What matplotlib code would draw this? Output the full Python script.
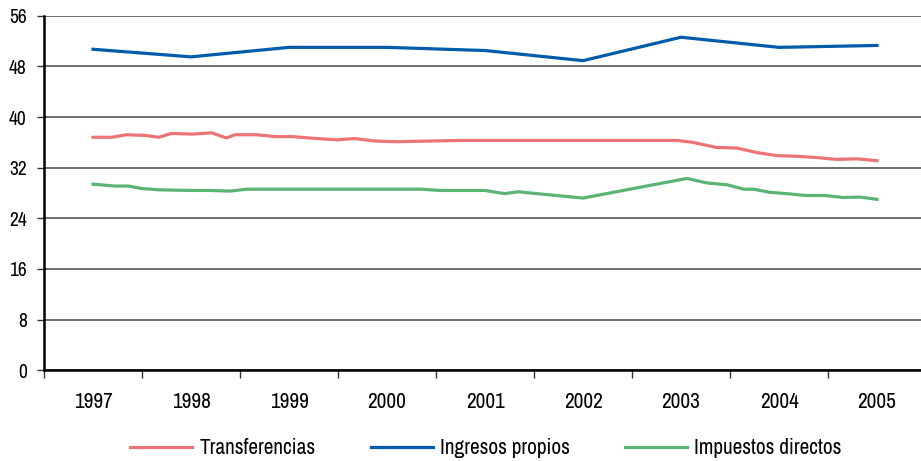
import matplotlib
matplotlib.use("Agg")
import matplotlib.pyplot as plt
from matplotlib import font_manager

names = sorted({f.name for f in font_manager.fontManager.ttflist})
cond = [n for n in names if ("Narrow" in n or "Condensed" in n)]
family = cond[:1] + ["Liberation Sans", "DejaVu Sans"]
family = [f for f in family if f in names] or ["DejaVu Sans"]
plt.rcParams["font.family"] = family
FS_X = 15.3 if cond else 14
FS_Y = 14 if cond else 12.5

years = [1997, 1998, 1999, 2000, 2001, 2002, 2003, 2004, 2005]
year_labels = [str(y) for y in years]

# Ingresos propios (annual)
ingresos = [50.7, 49.5, 51.0, 51.0, 50.5, 48.9, 52.6, 51.0, 51.3]

# Transferencias (sub-annual)
transf_x = [1997.00, 1997.19, 1997.34, 1997.53, 1997.67, 1997.80, 1998.02, 1998.21,
            1998.36, 1998.45, 1998.67, 1998.86, 1999.04, 1999.28, 1999.49, 1999.67,
            1999.88, 2000.10, 2000.74, 2002.96, 2003.12, 2003.36, 2003.57, 2003.77,
            2003.98, 2004.18, 2004.38, 2004.59, 2004.79, 2005.00]
transf_y = [36.8, 36.8, 37.2, 37.1, 36.8, 37.4, 37.3, 37.5, 36.7, 37.2, 37.2, 36.9,
            36.9, 36.6, 36.4, 36.6, 36.2, 36.1, 36.3, 36.3, 36.0, 35.2, 35.1, 34.4,
            33.9, 33.8, 33.6, 33.3, 33.4, 33.1]

# Impuestos directos (sub-annual)
imp_x = [1997.00, 1997.22, 1997.36, 1997.50, 1997.68, 1998.02, 1998.19, 1998.40,
         1998.57, 2000.35, 2000.54, 2001.00, 2001.20, 2001.34, 2001.53, 2002.00,
         2003.06, 2003.26, 2003.47, 2003.64, 2003.74, 2003.91, 2004.08, 2004.28,
         2004.47, 2004.65, 2004.83, 2005.00]
imp_y = [29.4, 29.1, 29.1, 28.7, 28.5, 28.4, 28.4, 28.3, 28.6, 28.6, 28.4, 28.4,
         27.9, 28.2, 27.9, 27.2, 30.3, 29.6, 29.3, 28.6, 28.6, 28.1, 27.9, 27.6,
         27.6, 27.3, 27.35, 27.0]

yticks = [0, 8, 16, 24, 32, 40, 48, 56]

c_red = "#EC7476"
c_blue = "#005BAA"
c_green = "#5BB374"

fig = plt.figure(figsize=(9.21, 4.61), dpi=100)
W, H = 921, 461
ax = fig.add_axes([44 / W, 1 - 370.3 / H, 882 / W, (370.3 - 15.7) / H])

ax.plot(transf_x, transf_y, color=c_red, lw=2.3, label="Transferencias", solid_joinstyle="round")
ax.plot(years, ingresos, color=c_blue, lw=2.3, label="Ingresos propios", solid_joinstyle="round")
ax.plot(imp_x, imp_y, color=c_green, lw=2.3, label="Impuestos directos", solid_joinstyle="round")

ax.set_xlim(1996.5, 2005.5)
ax.set_ylim(0, 56)
ax.set_yticks(yticks)
ax.set_yticklabels([str(v) for v in yticks])
ax.set_xticks([y - 0.5 for y in years])
ax.set_xticklabels([])
ax.set_xticks(years, minor=True)
ax.set_xticklabels(year_labels, minor=True)
ax.tick_params(axis="x", which="minor", length=0, pad=15.5, labelsize=FS_X)
ax.tick_params(axis="x", which="major", length=6, width=1, direction="out", color="#333333")
ax.tick_params(axis="y", length=5, width=1, pad=7.5, labelsize=FS_Y, color="#333333")

ax.grid(axis="y", color="#555555", lw=1.2)
ax.set_axisbelow(True)
for s in ["top", "right"]:
    ax.spines[s].set_visible(False)
ax.spines["left"].set_linewidth(1.8)
ax.spines["bottom"].set_linewidth(1.8)
ax.spines["left"].set_color("black")
ax.spines["bottom"].set_color("black")

fig.legend(loc="center", bbox_to_anchor=(486 / W, 1 - 448 / H), ncol=3, frameon=False,
           fontsize=FS_X, handlelength=2.9, columnspacing=2.6, handletextpad=0.35)

fig.savefig("out.png", dpi=100)
